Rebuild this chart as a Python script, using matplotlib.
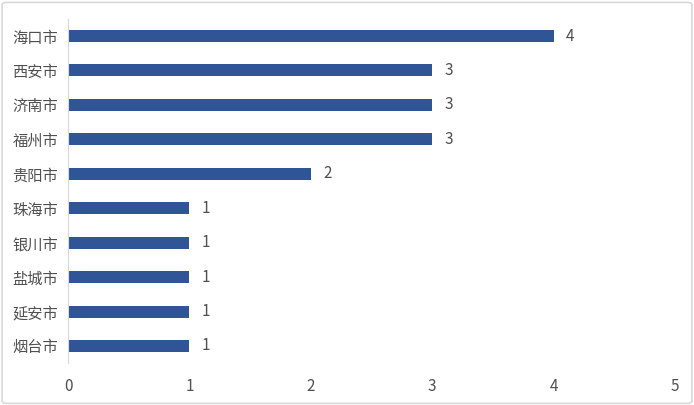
import matplotlib.pyplot as plt
from matplotlib.patches import FancyBboxPatch

plt.rcParams['font.family'] = ['Noto Sans CJK SC', 'DejaVu Sans']

# data (top to bottom)
cities = ["海口市", "西安市", "济南市", "福州市", "贵阳市",
          "珠海市", "银川市", "盐城市", "延安市", "烟台市"]
counts = [4, 3, 3, 3, 2, 1, 1, 1, 1, 1]

bar_color = "#2F5597"
text_color = "#505050"

fig = plt.figure(figsize=(6.94, 4.05), dpi=100)
ax = fig.add_axes([0.098, 0.1032, 0.8746, 0.8504])

y = list(range(len(cities)))
ax.barh(y, counts, height=0.35, color=bar_color)
ax.set_yticks(y)
ax.set_yticklabels(cities)
ax.set_ylim(len(cities) - 0.5, -0.5)
ax.set_xlim(0, 5)
ax.set_xticks(range(6))

for yi, v in zip(y, counts):
    ax.text(v + 0.1, yi, str(v), va="center", ha="left",
            fontsize=11, color=text_color)

for s in ["top", "right", "bottom"]:
    ax.spines[s].set_visible(False)
ax.spines["left"].set_color("#D9D9D9")
ax.tick_params(axis="both", length=0, labelsize=11, colors=text_color)
ax.tick_params(axis="x", pad=11)
ax.tick_params(axis="y", pad=7)

# light border around the figure
border = FancyBboxPatch((0.003, 0.004), 0.994, 0.99,
                        boxstyle="round,pad=0,rounding_size=0.006",
                        transform=fig.transFigure, fill=False,
                        edgecolor="#D9D9D9", linewidth=1.2)
fig.patches.append(border)

fig.savefig("out.png", dpi=100)
